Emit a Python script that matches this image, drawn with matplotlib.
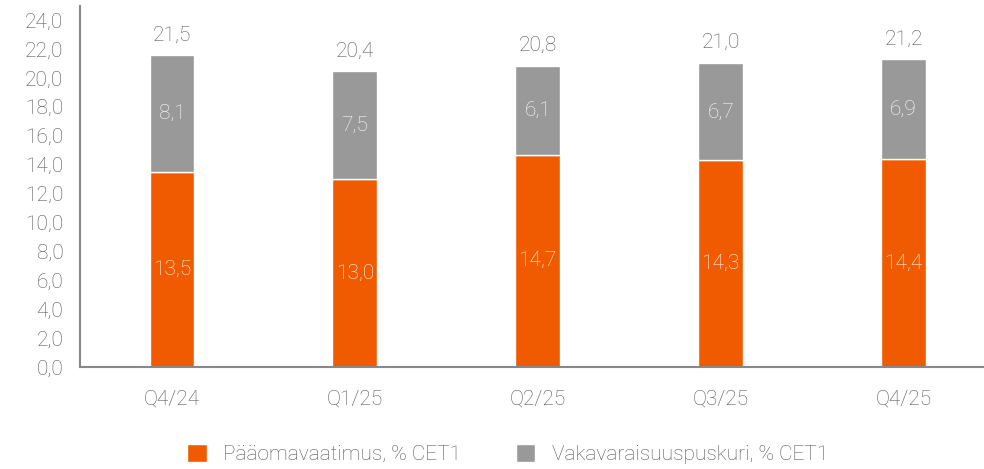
import matplotlib.pyplot as plt
from matplotlib.ticker import FuncFormatter

quarters = ['Q4/24', 'Q1/25', 'Q2/25', 'Q3/25', 'Q4/25']
paaoma = [13.5, 13.0, 14.7, 14.3, 14.4]
puskuri = [8.1, 7.5, 6.1, 6.7, 6.9]
totals = [21.5, 20.4, 20.8, 21.0, 21.2]

orange = '#F05A00'
grey = '#999999'
txt = '#555555'


def fi(v, dec=1):
    return f'{v:.{dec}f}'.replace('.', ',')


plt.rcParams['font.family'] = ['Roboto', 'DejaVu Sans']
plt.rcParams['font.weight'] = 'light'

fig = plt.figure(figsize=(9.84, 4.69), dpi=100)
ax = fig.add_axes([0.0813, 0.2175, 0.9187, 0.7705])

x = range(len(quarters))
b1 = ax.bar(x, paaoma, width=0.245, color=orange, edgecolor='white', linewidth=1,
            label='Pääomavaatimus, % CET1')
b2 = ax.bar(x, puskuri, width=0.245, bottom=paaoma, color=grey, edgecolor='white', linewidth=1,
            label='Vakavaraisuuspuskuri, % CET1')

for i in x:
    ax.text(i, paaoma[i] / 2, fi(paaoma[i]), ha='center', va='center', color='white', fontsize=15)
    ax.text(i, paaoma[i] + puskuri[i] / 2, fi(puskuri[i]), ha='center', va='center', color='white', fontsize=15)
    ax.text(i, totals[i] + 0.8, fi(totals[i]), ha='center', va='bottom', color=txt, fontsize=15)

ax.set_ylim(0, 25)
ax.set_xlim(-0.503, 4.44)
ax.set_yticks(range(0, 25, 2))
ax.yaxis.set_major_formatter(FuncFormatter(lambda v, p: fi(v)))
ax.set_xticks(list(x))
ax.set_xticklabels(quarters)
ax.tick_params(axis='both', length=0, colors=txt, labelsize=15)
ax.tick_params(axis='x', pad=16)
ax.tick_params(axis='y', pad=12)
for s in ['top', 'right']:
    ax.spines[s].set_visible(False)
for s in ['left', 'bottom']:
    ax.spines[s].set_color('#888888')
    ax.spines[s].set_linewidth(1.5)

fig.legend(handles=[b1, b2], loc='lower center', bbox_to_anchor=(0.516, -0.03), ncol=2, frameon=False,
           fontsize=15, labelcolor=txt, handlelength=0.95, handleheight=0.95, columnspacing=2.6, handletextpad=0.8)

fig.savefig('out.png', dpi=100)
